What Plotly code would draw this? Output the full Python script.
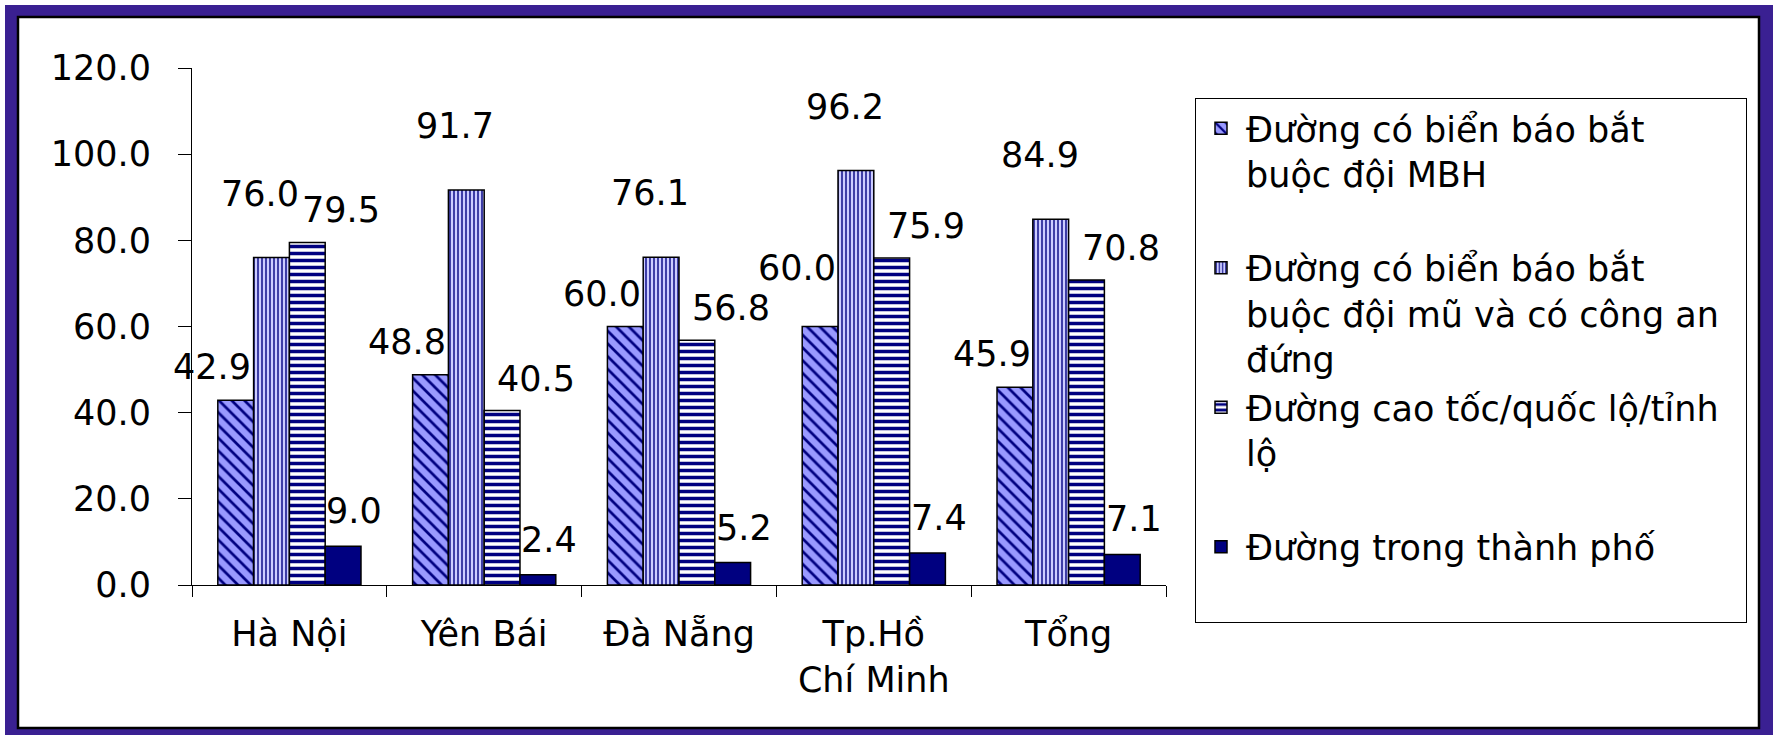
import plotly.graph_objects as go

# ---------------- data ----------------
categories = ["Hà Nội", "Yên Bái", "Đà Nẵng", "Tp.Hồ<br>Chí Minh", "Tổng"]
series_names = [
    "Đường có biển báo bắt<br>buộc đội MBH<br>\u00a0",
    "Đường có biển báo bắt<br>buộc đội mũ và có công an<br>đứng",
    "Đường cao tốc/quốc lộ/tỉnh\u00a0\u00a0<br>lộ<br>\u00a0",
    "Đường trong thành phố<br>\u00a0",
]
mbh_sign = [42.9, 48.8, 60.0, 60.0, 45.9]
helmet_police = [76.0, 91.7, 76.1, 96.2, 84.9]
highway = [79.5, 40.5, 56.8, 75.9, 70.8]
city_road = [9.0, 2.4, 5.2, 7.4, 7.1]
y_ticks = [0, 20, 40, 60, 80, 100, 120]

series_values = [mbh_sign, helmet_police, highway, city_road]

# ---------------- styles ----------------
FONT = "DejaVu Sans"
FS = 35
LFS = 35
NAVY = "#000080"
LAV = "#9999FF"
PURPLE = "#3A2092"

styles = [
    dict(color=LAV, pattern=dict(shape="\\", fgcolor=NAVY, bgcolor=LAV, size=9, solidity=0.3, fillmode="replace")),
    dict(color="#CCCCFF", pattern=dict(shape="|", fgcolor=NAVY, bgcolor="#CCCCFF", size=4, solidity=0.35, fillmode="replace")),
    dict(color="white", pattern=dict(shape="-", fgcolor=NAVY, bgcolor="white", size=7, solidity=0.5, fillmode="replace")),
    dict(color=NAVY),
]
# label offsets per series (pixels, relative to category centre / bar top)
label_shift = [(-77, 33), (-29, 64), (52, 32), (65, 35)]
# extra upward nudge of single labels that were lifted in the original layout
label_nudge = {(0, 3): 26}

W, H = 1773, 735
L, R, T, B = 192, 1166, 68, 585


def px_x(px):
    return (px - L) / (R - L)


def px_y(py):
    return (B - py) / (B - T)


fig = go.Figure()
for name, vals, st in zip(series_names, series_values, styles):
    fig.add_trace(go.Bar(
        x=categories, y=vals, name=name,
        marker=dict(line=dict(color="black", width=1.5), **st),
    ))

annotations = []
for si, (vals, (dx, dy)) in enumerate(zip(series_values, label_shift)):
    for ci, (c, v) in enumerate(zip(categories, vals)):
        annotations.append(dict(
            x=c, y=v, text=f"{v:.1f}", showarrow=False,
            xshift=dx, yshift=dy + label_nudge.get((si, ci), 0),
            xanchor="center", yanchor="middle",
            font=dict(family=FONT, size=FS, color="black"),
        ))

shapes = [
    dict(type="rect", xref="paper", yref="paper",
         x0=px_x(5), x1=px_x(1773), y0=px_y(5), y1=px_y(735),
         fillcolor=PURPLE, line=dict(width=0), layer="below"),
    dict(type="rect", xref="paper", yref="paper",
         x0=px_x(18), x1=px_x(1759), y0=px_y(17), y1=px_y(728),
         fillcolor="white", line=dict(color="black", width=2.5), layer="below"),
]

fig.update_layout(
    width=W, height=H,
    margin=dict(l=L, r=W - R, t=T, b=H - B, pad=0),
    paper_bgcolor="white",
    plot_bgcolor="rgba(0,0,0,0)",
    barmode="group", bargap=0.265, bargroupgap=0,
    font=dict(family=FONT, size=FS, color="black"),
    showlegend=True,
    legend=dict(
        x=px_x(1195), y=px_y(98), xanchor="left", yanchor="top",
        bgcolor="white", bordercolor="black", borderwidth=1,
        font=dict(family=FONT, size=LFS, color="black"),
        valign="top", itemwidth=40, tracegroupgap=0,
        traceorder="normal", maxheight=650,
    ),
    annotations=annotations,
    shapes=shapes,
    xaxis=dict(
        range=[-0.5, len(categories) - 0.5], autorange=False,
        showline=True, linecolor="black", linewidth=1,
        ticks="outside", ticklen=11, tickcolor="black", tickwidth=1,
        tickson="boundaries", showgrid=False, zeroline=False,
        tickfont=dict(family=FONT, size=FS), ticklabelstandoff=18,
    ),
    yaxis=dict(
        range=[0, 120], autorange=False, tickvals=y_ticks, tickformat=".1f",
        showline=True, linecolor="black", linewidth=1,
        ticks="outside", ticklen=13, tickcolor="black", tickwidth=1,
        showgrid=False, zeroline=False,
        tickfont=dict(family=FONT, size=FS), ticklabelstandoff=20,
    ),
)

fig.write_html(
    "out.html",
    config={"displayModeBar": False},
    post_script="document.body.style.margin='0px';",
)
